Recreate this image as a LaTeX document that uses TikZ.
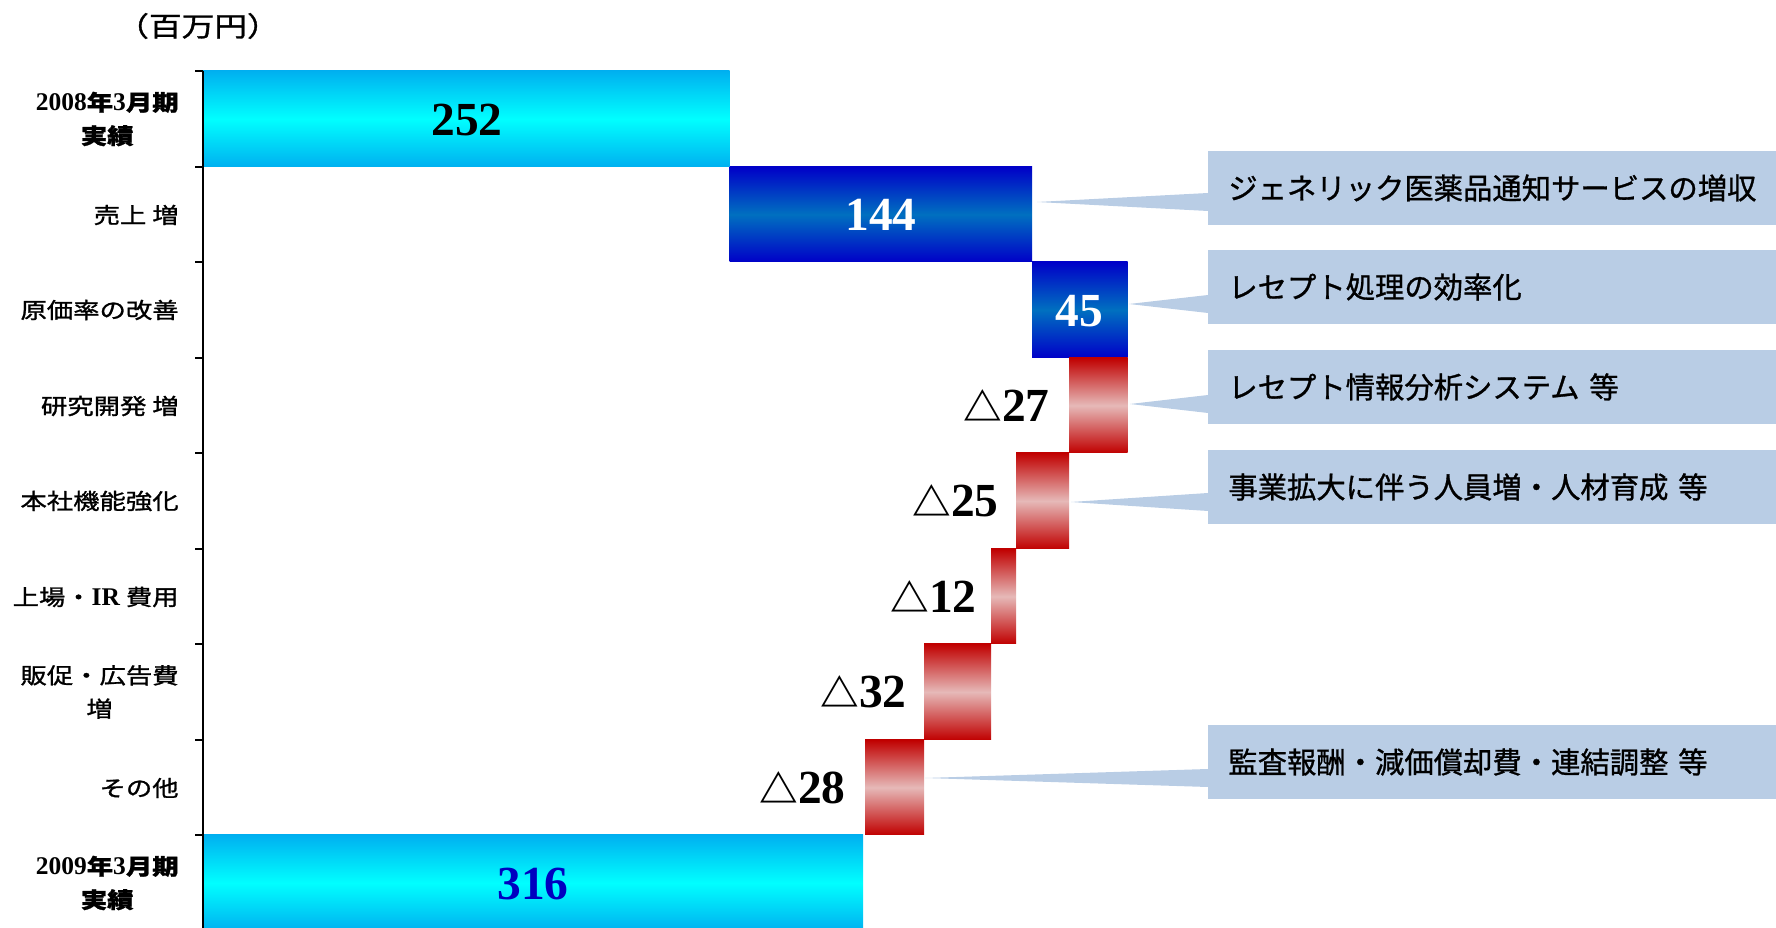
\documentclass[tikz,border=0pt]{standalone}
\usepackage{fontspec}
\setmainfont{Liberation Serif}
\newfontfamily\jpfont[FakeBold=1]{Noto Sans CJK JP}
\newfontfamily\trifont{Noto Sans CJK JP}
\newfontfamily\lblfont[FakeStretch=1.2,FakeBold=1.2]{Noto Sans CJK JP}
\usetikzlibrary{calc}

\definecolor{cyanedge}{RGB}{0,176,240}
\definecolor{cyanmid}{RGB}{0,255,255}
\definecolor{blueedge}{RGB}{0,0,200}
\definecolor{bluemid}{RGB}{0,112,192}
\definecolor{rededge}{RGB}{192,0,0}
\definecolor{redmid}{RGB}{230,185,184}
\definecolor{notefill}{RGB}{185,205,229}
\definecolor{navytext}{RGB}{0,0,192}

\newcommand\fyear[1]{{\rmfamily\bfseries\fontsize{14.5}{19}\selectfont #1}}
\newcommand\tri{{\trifont\fontsize{22}{24}\selectfont △}}

\tikzset{
  cyanbar/.style={top color=cyanedge,bottom color=cyanedge,middle color=cyanmid},
  bluebar/.style={top color=blueedge,bottom color=blueedge,middle color=bluemid},
  redbar/.style={top color=rededge,bottom color=rededge,middle color=redmid},
  rowlabel/.style={anchor=east,align=center,inner sep=0pt,font=\lblfont\fontsize{12.5}{19}\selectfont},
  yearlabel/.style={rowlabel,font=\lblfont\bfseries\fontsize{12.5}{19}\selectfont},
  num/.style={inner sep=0pt,font=\fontsize{27}{30}\selectfont\bfseries},
  dnum/.style={num,anchor=east},
  note/.style={fill=notefill,anchor=west,minimum height=1.48cm,text width=11cm,
    inner xsep=0.4cm,align=left,font=\jpfont\fontsize{16.7}{19}\selectfont}
}

\begin{document}
\begin{tikzpicture}[x=0.02cm,y=-0.02cm]
    \useasboundingbox (0,0) rectangle (1776,928);
    % bars
    \shade[cyanbar](203,71) rectangle (729.5,167);
    \shade[bluebar](729.5,167) rectangle (1032,262);
    \shade[bluebar](1032,262) rectangle (1127.5,358);
    \shade[redbar](1069,358) rectangle (1127.5,453);
    \shade[redbar](1016,453) rectangle (1069,549);
    \shade[redbar](991,549) rectangle (1016,644);
    \shade[redbar](924,644) rectangle (991,740);
    \shade[redbar](865,740) rectangle (924,835);
    \shade[cyanbar](203,835) rectangle (863,931);
    % axis
    \draw[line width=1.7pt](203,71)--(203,931);
    \foreach \y in {71,167,262,358,453,549,644,740,835}
        \draw[line width=1.1pt](195,\y)--(203,\y);
    % values
    \node[num] (v252) at (467,120) {252};
    \node[num,text=white] (v144) at (881,215) {144};
    \node[num,text=white] (v45) at (1079,311) {45};
    \node[num,text=navytext] (v316) at (533,884) {316};
    \node[dnum] (d27) at (1050,406) {\tri 27};
    \node[dnum] (d25) at (999,501) {\tri 25};
    \node[dnum] (d12) at (977,597) {\tri 12};
    \node[dnum] (d32) at (907,692) {\tri 32};
    \node[dnum] (d28) at (846,788) {\tri 28};
    % row labels
    \node[rowlabel,anchor=center,font=\lblfont\fontsize{15.5}{18}\selectfont] (unit) at (198,26) {（百万円）};
    \node[yearlabel] (l0) at (179,119) {\fyear{2008}年\fyear{3}月期\\実績};
    \node[rowlabel] (l1) at (179,215) {売上 増};
    \node[rowlabel] (l2) at (179,310) {原価率の改善};
    \node[rowlabel] (l3) at (179,406) {研究開発 増};
    \node[rowlabel] (l4) at (179,501) {本社機能強化};
    \node[rowlabel] (l5) at (179,597) {上場・\fyear{IR} 費用};
    \node[rowlabel] (l6) at (179,692) {販促・広告費\\増};
    \node[rowlabel] (l7) at (179,788) {その他};
    \node[yearlabel] (l8) at (179,883) {\fyear{2009}年\fyear{3}月期\\実績};
    % notes
    \node[note] (n1) at (1208,188) {ジェネリック医薬品通知サービスの増収};
    \node[note] (n2) at (1208,287) {レセプト処理の効率化};
    \node[note] (n3) at (1208,387) {レセプト情報分析システム 等};
    \node[note] (n4) at (1208,487) {事業拡大に伴う人員増・人材育成 等};
    \node[note] (n5) at (1208,762) {監査報酬・減価償却費・連結調整 等};
    \coordinate (t1) at (1037,202);
    \coordinate (t2) at (1129,304);
    \coordinate (t3) at (1130,404);
    \coordinate (t4) at (1071,502);
    \coordinate (t5) at (925,778);
    \foreach \n in {1,...,5}
        \fill[notefill](t\n)--($(n\n.west |- t\n)+(0,-9)$)--($(n\n.west |- t\n)+(0,9)$)--cycle;
\end{tikzpicture}
\end{document}
